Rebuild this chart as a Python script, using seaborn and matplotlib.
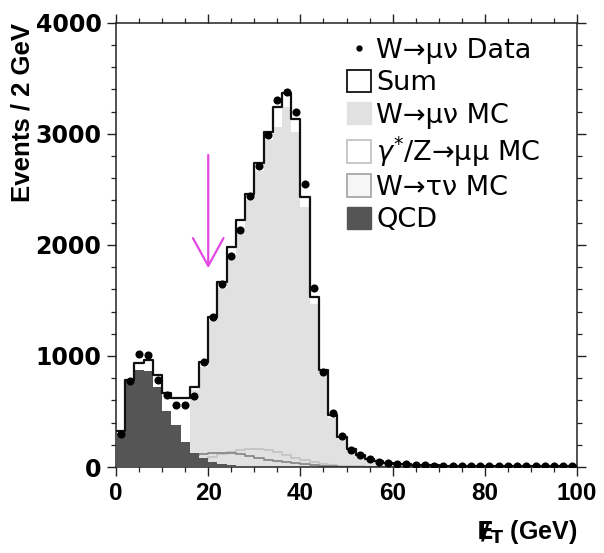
import numpy as np
import pandas as pd
import matplotlib
matplotlib.use("Agg")
import matplotlib.pyplot as plt
import seaborn as sns
from matplotlib.lines import Line2D
from matplotlib.patches import Patch
from matplotlib.ticker import MultipleLocator

# ---- data (2 GeV bins, 0-100 GeV) ----
bin_edges = list(range(0, 102, 2))
bin_centers = [e + 1 for e in bin_edges[:-1]]

data_counts = [300, 770, 1015, 1010, 780, 650, 557, 557, 640, 945,
               1348, 1651, 1897, 2137, 2436, 2706, 2993, 3308, 3380, 3200,
               2550, 1612, 853, 485, 280, 156, 108, 70, 48, 38,
               30, 24, 18, 15, 13, 12, 11, 10, 10, 9,
               9, 8, 8, 8, 7, 7, 7, 6, 6, 6]

sum_mc = [320, 782, 933, 963, 828, 665, 618, 618, 717, 947,
          1351, 1666, 1983, 2222, 2462, 2734, 3018, 3243, 3365, 3129,
          2430, 1530, 870, 470, 272, 160, 106, 72, 51, 39,
          31, 25, 20, 17, 15, 13, 12, 11, 10, 10,
          9, 9, 8, 8, 8, 7, 7, 7, 6, 6]

w_munu_mc = [5, 10, 20, 30, 45, 65, 100, 160, 692, 900,
             1311, 1616, 1893, 2162, 2402, 2664, 2943, 3063, 3245, 3019,
             2340, 1470, 830, 445, 255, 150, 98, 65, 46, 35,
             27, 22, 17, 14, 12, 11, 10, 9, 9, 8,
             8, 7, 7, 7, 6, 6, 6, 5, 5, 5]

z_mumu_mc = [2, 4, 7, 10, 15, 22, 32, 45, 60, 76,
             93, 115, 138, 152, 159, 159, 152, 138, 108, 78,
             62, 45, 30, 20, 12, 8, 5, 3, 2, 1,
             0, 0, 0, 0, 0, 0, 0, 0, 0, 0,
             0, 0, 0, 0, 0, 0, 0, 0, 0, 0]

w_taunu_mc = [2, 6, 12, 20, 32, 48, 66, 85, 104, 118,
              127, 130, 128, 115, 102, 80, 65, 52, 42, 33,
              24, 14, 9, 5, 3, 2, 1, 0, 0, 0,
              0, 0, 0, 0, 0, 0, 0, 0, 0, 0,
              0, 0, 0, 0, 0, 0, 0, 0, 0, 0]

qcd = [310, 770, 870, 860, 720, 500, 378, 228, 123, 78,
       48, 30, 18, 11, 6, 3, 2, 1, 0, 0,
       0, 0, 0, 0, 0, 0, 0, 0, 0, 0,
       0, 0, 0, 0, 0, 0, 0, 0, 0, 0,
       0, 0, 0, 0, 0, 0, 0, 0, 0, 0]

legend_labels = ["W\u2192\u03bc\u03bd Data", "Sum", "W\u2192\u03bc\u03bd MC",
                 "$\\gamma^{*}$/Z\u2192\u03bc\u03bc MC", "W\u2192\u03c4\u03bd MC", "QCD"]
cut_value = 20

df = pd.DataFrame({"et": bin_centers, "data": data_counts, "total": sum_mc,
                   "wmunu": w_munu_mc, "zmumu": z_mumu_mc,
                   "wtaunu": w_taunu_mc, "qcd": qcd})

sns.set_theme(style="ticks")
plt.rcParams['font.family'] = ['Liberation Sans', 'DejaVu Sans']
plt.rcParams['mathtext.fontset'] = 'dejavusans'
for key in ['text.color', 'axes.labelcolor', 'xtick.color', 'ytick.color', 'axes.edgecolor']:
    plt.rcParams[key] = 'black'

fig = plt.figure(figsize=(6.04, 5.53), dpi=100)
ax = fig.add_axes([0.1921, 0.1555, 0.7632, 0.8034])

c_w = '#e1e1e1'
c_z = '#c4c4c4'
c_tau = '#8a8a8a'
c_qcd = '#555555'

sns.histplot(data=df, x="et", weights="wmunu", bins=bin_edges, element="step",
             fill=True, color=c_w, alpha=1, linewidth=0, ax=ax, zorder=1)
sns.histplot(data=df, x="et", weights="zmumu", bins=bin_edges, element="step",
             fill=False, color=c_z, linewidth=1.3, ax=ax, zorder=2)
sns.histplot(data=df, x="et", weights="wtaunu", bins=bin_edges, element="step",
             fill=False, color=c_tau, linewidth=1.3, ax=ax, zorder=2)
sns.histplot(data=df, x="et", weights="qcd", bins=bin_edges, element="step",
             fill=True, color=c_qcd, alpha=1, linewidth=0, ax=ax, zorder=3)
sns.histplot(data=df, x="et", weights="total", bins=bin_edges, element="step",
             fill=False, color='#111111', linewidth=1.6, ax=ax, zorder=4)
sns.scatterplot(data=df, x="et", y="data", color='black', s=34, linewidth=0,
                ax=ax, zorder=6)

ax.annotate("", xy=(cut_value, 1790), xytext=(cut_value, 2810),
            arrowprops=dict(arrowstyle="->,head_length=1.0,head_width=0.55",
                            color='#e448e4', lw=1.6, mutation_scale=20,
                            shrinkA=0, shrinkB=0), zorder=7)

ax.set_xlim(0, 100)
ax.set_ylim(0, 4000)
ax.xaxis.set_major_locator(MultipleLocator(20))
ax.xaxis.set_minor_locator(MultipleLocator(5))
ax.yaxis.set_major_locator(MultipleLocator(1000))
ax.yaxis.set_minor_locator(MultipleLocator(200))
ax.tick_params(which='both', direction='out', top=True, right=True,
               labeltop=False, labelright=False, color='#222222')
ax.tick_params(which='major', length=6.5, width=1.0, labelsize=17.5, pad=4,
               labelcolor='black')
ax.tick_params(which='minor', length=3.3, width=0.9)
for lab in ax.get_xticklabels():
    lab.set_fontweight('bold')
for lab in ax.get_yticklabels():
    lab.set_fontweight('bold')
    lab.set_fontfamily('DejaVu Sans')
    lab.set_fontsize(17)
for sp in ax.spines.values():
    sp.set_visible(True)
    sp.set_linewidth(1.1)
    sp.set_color('#222222')

ax.set_ylabel("Events / 2 GeV", fontsize=18.5, fontweight='bold', loc='top',
              labelpad=1, color='black')
ax.set_xlabel(r"$\mathbf{E\!\!\!/_{T}}$ (GeV)", fontsize=18, fontweight='bold',
              loc='right', labelpad=10, color='black')

handles = [
    Line2D([], [], marker='o', color='black', linestyle='none', markersize=3.5),
    Patch(facecolor='white', edgecolor='#111111', linewidth=1.3),
    Patch(facecolor=c_w, edgecolor=c_w, linewidth=1.0),
    Patch(facecolor='white', edgecolor=c_z, linewidth=1.3),
    Patch(facecolor='#f6f6f6', edgecolor='#a8a8a8', linewidth=1.3),
    Patch(facecolor=c_qcd, edgecolor=c_qcd, linewidth=1.0),
]
leg = ax.legend(handles, legend_labels, loc='upper left', bbox_to_anchor=(0.50, 0.967),
                frameon=False, prop={'family': 'DejaVu Sans', 'size': 19.5},
                handlelength=0.9, handleheight=0.9, handletextpad=0.2,
                labelspacing=0.21, borderpad=0, borderaxespad=0, labelcolor='black')

fig.savefig("out.png", dpi=100)
